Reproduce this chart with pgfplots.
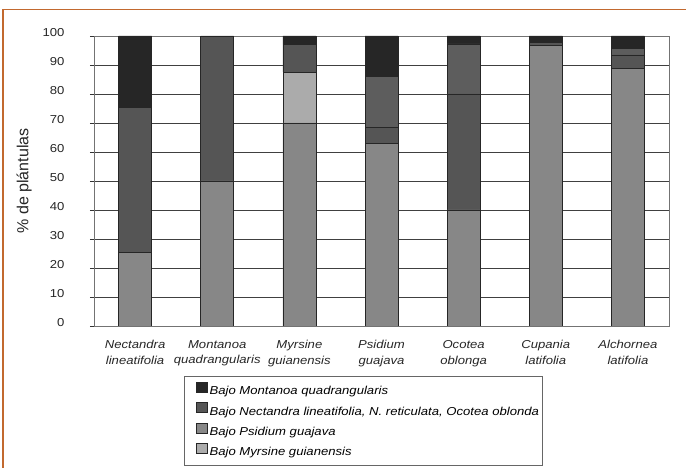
\documentclass[border=0pt]{standalone}
\usepackage{pgfplots}
\pgfplotsset{compat=1.18}
\usepackage{pgfplotstable}
\usepackage{fontspec}
\setmainfont{Liberation Sans}
% the reference text is a little wide
\newfontfamily\wide[FakeStretch=1.14]{Liberation Sans}

\definecolor{cBlack}{HTML}{262626}
\definecolor{cDark}{HTML}{555555}
\definecolor{cDarkB}{HTML}{5D5D5D}
\definecolor{cMed}{HTML}{878787}
\definecolor{cLight}{HTML}{ABABAB}
\definecolor{frameorange}{HTML}{C2692F}

% % de plantulas per segment, bottom to top
\pgfplotstableread{
x  S1    S2    S3    S4    S5
0  25.5  0     50.0  0     24.5
1  50.0  0     50.0  0     0
2  70.0  17.6  9.6   0     2.8
3  63.1  0     5.5   17.5  13.9
4  40.0  0     40.0  17.3  2.7
5  96.7  0     1.1   0     2.2
6  88.8  0     4.7   2.2   4.3
}\datatable

\begin{document}
\begin{tikzpicture}
\useasboundingbox (0pt,0pt) rectangle (686pt,468pt);
\clip (0pt,0pt) rectangle (686pt,468pt);
\draw[frameorange, line width=1.5pt] (3pt,-5pt) -- (3pt,458.5pt) -- (700pt,458.5pt);
\begin{axis}[
    at={(94pt,142pt)}, anchor=south west,
    width=575pt, height=290pt, scale only axis,
    ybar stacked, bar width=33pt,
    xmin=-0.5, xmax=6.5, ymin=0, ymax=100,
    xtick={0,...,6},
    xticklabels={{Nectandra\\lineatifolia},{Montanoa\\quadrangularis},{Myrsine\\guianensis},{Psidium\\guajava},{Ocotea\\oblonga},{Cupania\\latifolia},{Alchornea\\latifolia}},
    xticklabel style={font=\wide\itshape\fontsize{11.5}{15.5}\selectfont, align=center, yshift=-7pt, text=black!85},
    x tick style={draw=none},
    ytick={0,10,...,100},
    yticklabel style={font=\wide\fontsize{11.5}{13}\selectfont, xshift=-22pt, yshift=3pt, text=black!85},
    /pgf/number format/assume math mode=true,
    tick align=outside, major tick length=4pt,
    y tick style={black!80, line width=0.7pt},
    ytick pos=left,
    ymajorgrids, grid style={black!75, line width=0.7pt},
    axis line style={black!55, line width=0.8pt},
    ylabel={\% de plántulas},
    every axis y label/.style={at={(axis description cs:-0.1217,0.5)}, rotate=90, anchor=center, font=\fontsize{16}{18}\selectfont, text=black!85},
    legend cell align=left,
    legend style={at={(0.1565,-0.1718)}, anchor=north west, draw=black!60, line width=0.7pt,
        inner xsep=0.5pt, inner ysep=6pt, row sep=3.5pt,
        font=\wide\itshape\fontsize{11.5}{13}\selectfont, nodes={inner sep=2.5pt}},
    legend image code/.code={\path[draw=none, fill=none] (0pt,0pt) -- (22pt,0pt);
        \draw[#1, draw=black!85, line width=0.5pt] (11pt,-1pt) rectangle (22pt,9pt);},
    every axis plot/.append style={draw=black!85, line width=0.6pt},
]
\addplot[fill=cMed, forget plot] table[x=x, y=S1] {\datatable};
\addplot[fill=cLight, forget plot] table[x=x, y=S2] {\datatable};
\addplot[fill=cDark, forget plot] table[x=x, y=S3] {\datatable};
\addplot[fill=cDarkB, forget plot] table[x=x, y=S4] {\datatable};
\addplot[fill=cBlack, forget plot] table[x=x, y=S5] {\datatable};

\addlegendimage{fill=cBlack}
\addlegendentry{\rule[-3.5pt]{0pt}{11pt}Bajo Montanoa quadrangularis}
\addlegendimage{fill=cDark}
\addlegendentry{\rule[-3.5pt]{0pt}{11pt}Bajo Nectandra lineatifolia, N. reticulata, Ocotea oblonda}
\addlegendimage{fill=cMed}
\addlegendentry{\rule[-3.5pt]{0pt}{11pt}Bajo Psidium guajava}
\addlegendimage{fill=cLight}
\addlegendentry{\rule[-30pt]{0pt}{11pt}Bajo Myrsine guianensis}
\end{axis}
\end{tikzpicture}
\end{document}
